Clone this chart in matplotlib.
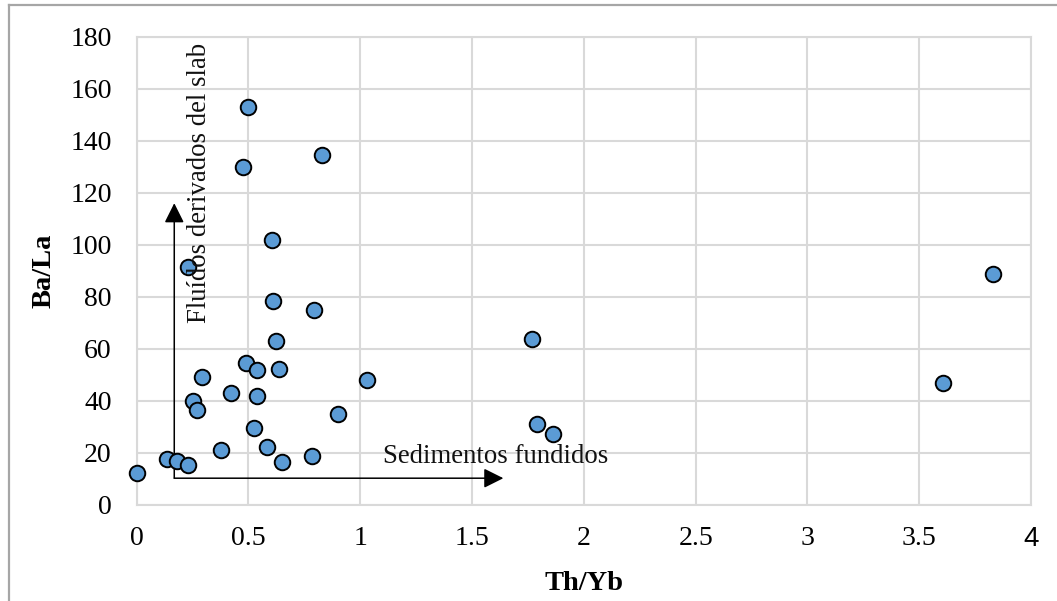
import matplotlib
matplotlib.use("Agg")
import matplotlib.pyplot as plt
from matplotlib.patches import FancyArrowPatch
from matplotlib.lines import Line2D

# Data
th_yb = [0.0, 0.135, 0.182, 0.228, 0.250, 0.268, 0.292, 0.377, 0.423, 0.489,
         0.537, 0.537, 0.526, 0.583, 0.651, 0.610, 0.623, 0.635, 0.794, 0.783,
         0.899, 1.029, 0.499, 0.475, 0.605, 0.228, 0.830, 1.769, 1.790, 1.862,
         3.831, 3.607]
ba_la = [12.3, 17.7, 16.9, 15.4, 40.1, 36.5, 49.3, 21.3, 42.9, 54.4,
         51.9, 41.9, 29.7, 22.4, 16.4, 78.4, 63.0, 52.3, 74.9, 18.9,
         35.1, 48.0, 152.8, 129.8, 101.7, 91.5, 134.6, 63.8, 31.1, 27.3,
         88.8, 46.8]

x_ticks = [0, 0.5, 1, 1.5, 2, 2.5, 3, 3.5, 4]
x_tick_labels = ["0", "0.5", "1", "1.5", "2", "2.5", "3", "3.5", "4"]
y_ticks = [0, 20, 40, 60, 80, 100, 120, 140, 160, 180]

x_label = "Th/Yb"
y_label = "Ba/La"
slab_text = "Fluídos derivados del slab"
sed_text = "Sedimentos fundidos"

# arrow geometry (data units)
arrow_origin = (0.168, 10.3)
arrow_up_end = (0.168, 116.0)
arrow_right_end = (1.640, 10.3)

serif = "Liberation Serif"
W, H = 1057, 601
fig = plt.figure(figsize=(W / 100, H / 100), dpi=100)
ax = fig.add_axes([136.7 / W, 1 - 505 / H, (1031 - 136.7) / W, (505 - 36.7) / H])

grid_c = "#d9d9d9"
ax.set_xlim(0, 4)
ax.set_ylim(0, 180)
ax.set_xticks(x_ticks)
ax.set_xticklabels(x_tick_labels)
ax.set_yticks(y_ticks)
ax.grid(True, color=grid_c, linewidth=1.5)
ax.set_axisbelow(True)
for s in ax.spines.values():
    s.set_color(grid_c)
    s.set_linewidth(1.5)
ax.tick_params(length=0, labelsize=20)
ax.tick_params(axis="x", pad=15)
ax.tick_params(axis="y", pad=18)
for lab in ax.get_xticklabels() + ax.get_yticklabels():
    lab.set_fontfamily(serif)
    lab.set_color("black")
ax.get_xticklabels()[-1].set_fontfamily("Liberation Sans")

ax.set_xlabel(x_label, fontfamily=serif, fontsize=20.5, fontweight="bold", labelpad=14)
ax.set_ylabel(y_label, fontfamily=serif, fontsize=20.5, fontweight="bold", labelpad=10)

ax.scatter(th_yb, ba_la, s=125, c="#5B9BD5", edgecolors="black", linewidths=1.4,
           zorder=4, clip_on=False)

style = "-|>,head_length=12,head_width=6"
for end in (arrow_up_end, arrow_right_end):
    arr = FancyArrowPatch(arrow_origin, end, arrowstyle=style, mutation_scale=1,
                          color="black", lw=1.1, shrinkA=0, shrinkB=0, zorder=3)
    ax.add_patch(arr)

ax.text(0.283, 123.7, slab_text, rotation=90, ha="center", va="center",
        fontfamily=serif, fontsize=19.3, color="#111111", zorder=5)
ax.text(1.10, 16.1, sed_text, ha="left", va="baseline",
        fontfamily=serif, fontsize=19.3, color="#111111", zorder=5)

# outer frame of the figure (top and left edges visible)
bc = "#a6a6a6"
fig.add_artist(Line2D([9 / W, 1.0], [1 - 5 / H, 1 - 5 / H], transform=fig.transFigure,
                      color=bc, linewidth=1.6))
fig.add_artist(Line2D([9 / W, 9 / W], [0.0, 1 - 5 / H], transform=fig.transFigure,
                      color=bc, linewidth=1.6))

fig.savefig("out.png", dpi=100)
